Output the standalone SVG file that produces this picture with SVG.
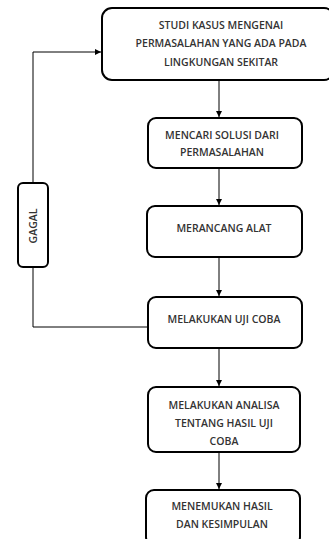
<svg xmlns="http://www.w3.org/2000/svg" width="329" height="539" viewBox="0 0 329 539">
<style>
.box{fill:#fff;stroke:#000;stroke-width:2}
.t{font-family:"Open Sans","Liberation Sans",sans-serif;font-size:10.5px;font-weight:600;fill:#333;text-anchor:middle}
.c{fill:none;stroke:#000;stroke-width:1}
</style>
<defs>
<marker id="ah" viewBox="0 0 10 10" refX="10" refY="5" markerWidth="6" markerHeight="6" orient="auto" markerUnits="userSpaceOnUse">
<path d="M0,0 L10,5 L0,10 z" fill="#000"/>
</marker>
</defs>
<rect width="329" height="539" fill="#fff"/>
<g id="connectors">
<line class="c" x1="219" y1="81" x2="219" y2="117" marker-end="url(#ah)"/>
<line class="c" x1="219" y1="169" x2="219" y2="205" marker-end="url(#ah)"/>
<line class="c" x1="219" y1="258" x2="219" y2="296" marker-end="url(#ah)"/>
<line class="c" x1="219" y1="349" x2="219" y2="386" marker-end="url(#ah)"/>
<line class="c" x1="219" y1="453" x2="219" y2="489" marker-end="url(#ah)"/>
<polyline class="c" points="33,183 33,52 101,52" marker-end="url(#ah)"/>
<polyline class="c" points="33,267 33,327 147,327"/>
</g>
<g id="n1">
<rect class="box" x="102" y="8" width="232" height="72" rx="10"/>
<text class="t" x="221" y="29">STUDI KASUS MENGENAI</text>
<text class="t" x="221" y="47">PERMASALAHAN YANG ADA PADA</text>
<text class="t" x="221" y="66">LINGKUNGAN SEKITAR</text>
</g>
<g id="n2">
<rect class="box" x="148" y="118" width="154" height="50" rx="8"/>
<text class="t" x="222" y="139">MENCARI SOLUSI DARI</text>
<text class="t" x="222" y="156">PERMASALAHAN</text>
</g>
<g id="n3">
<rect class="box" x="147" y="206" width="155" height="51" rx="8"/>
<text class="t" x="224" y="232">MERANCANG ALAT</text>
</g>
<g id="n4">
<rect class="box" x="148" y="297" width="154" height="51" rx="8"/>
<text class="t" x="224" y="323">MELAKUKAN UJI COBA</text>
</g>
<g id="n5">
<rect class="box" x="148" y="387" width="152" height="65" rx="8"/>
<text class="t" x="224" y="409">MELAKUKAN ANALISA</text>
<text class="t" x="224" y="427">TENTANG HASIL UJI</text>
<text class="t" x="224" y="445">COBA</text>
</g>
<g id="n6">
<rect class="box" x="146" y="490" width="154" height="55" rx="8"/>
<text class="t" x="222" y="510">MENEMUKAN HASIL</text>
<text class="t" x="222" y="528">DAN KESIMPULAN</text>
</g>
<g id="gagal">
<rect class="box" x="18" y="183" width="30" height="84" rx="5"/>
<text class="t" x="0" y="0" transform="translate(37,226) rotate(-90)">GAGAL</text>
</g>
</svg>
